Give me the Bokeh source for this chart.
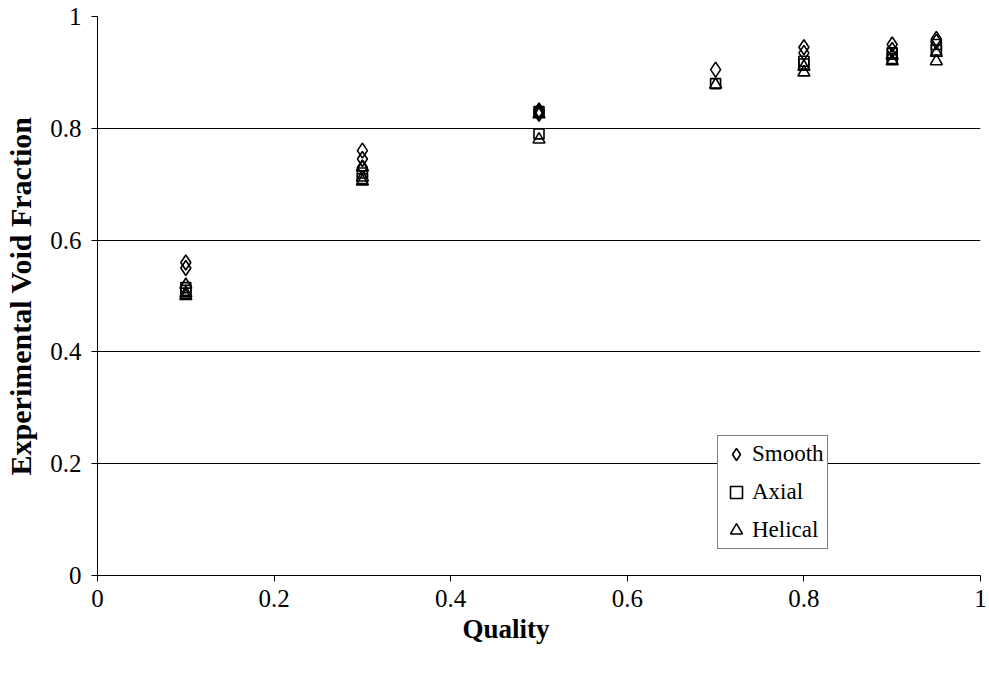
from bokeh.plotting import figure
from bokeh.models import FixedTicker, Legend, LegendItem, Range1d, Title
from bokeh.embed import file_html
from bokeh.resources import INLINE

# Data
smooth_x = [0.1, 0.1, 0.3, 0.3, 0.3, 0.5, 0.5, 0.5, 0.7, 0.8, 0.8, 0.9, 0.9, 0.95, 0.95]
smooth_y = [0.56, 0.55, 0.76, 0.745, 0.73, 0.832, 0.83, 0.826, 0.905, 0.945, 0.935, 0.95, 0.94, 0.96, 0.955]

axial_x = [0.1, 0.1, 0.1, 0.3, 0.3, 0.5, 0.5, 0.7, 0.8, 0.8, 0.9, 0.9, 0.95, 0.95]
axial_y = [0.515, 0.51, 0.505, 0.72, 0.71, 0.83, 0.79, 0.88, 0.92, 0.915, 0.935, 0.925, 0.95, 0.94]

helical_x = [0.1, 0.1, 0.1, 0.3, 0.3, 0.3, 0.5, 0.5, 0.7, 0.8, 0.8, 0.9, 0.9, 0.95, 0.95]
helical_y = [0.52, 0.505, 0.50, 0.73, 0.712, 0.705, 0.825, 0.78, 0.878, 0.91, 0.90, 0.93, 0.92, 0.935, 0.92]

series_names = ["Smooth", "Axial", "Helical"]

x_ticks = [0, 0.2, 0.4, 0.6, 0.8, 1]
x_tick_labels = ["0", "0.2", "0.4", "0.6", "0.8", "1"]
y_ticks = [0, 0.2, 0.4, 0.6, 0.8, 1]
y_tick_labels = ["0", "0.2", "0.4", "0.6", "0.8", "1"]
grid_levels = [0.2, 0.4, 0.6, 0.8]

FONT = "Liberation Serif"

p = figure(width=989, height=677, output_backend="svg", toolbar_location=None,
           x_range=Range1d(0, 1), y_range=Range1d(0, 1),
           min_border_left=97, min_border_right=9, min_border_top=16, min_border_bottom=102)
p.outline_line_color = None
p.background_fill_color = "white"
p.border_fill_color = "white"

p.xgrid.visible = False
p.ygrid.ticker = FixedTicker(ticks=grid_levels)
p.ygrid.grid_line_color = "black"
p.ygrid.grid_line_width = 1

for ax, ticks, labels in ((p.xaxis[0], x_ticks, x_tick_labels), (p.yaxis[0], y_ticks, y_tick_labels)):
    ax.ticker = FixedTicker(ticks=ticks)
    ax.major_label_overrides = {t: l for t, l in zip(ticks, labels)}
    ax.axis_line_color = "black"
    ax.axis_line_width = 1
    ax.major_tick_line_color = "black"
    ax.major_tick_out = 6
    ax.major_tick_in = 0
    ax.minor_tick_line_color = None
    ax.major_label_text_font = FONT
    ax.major_label_text_font_size = "25px"
    ax.major_label_text_color = "black"
    ax.axis_label_text_font = FONT
    ax.axis_label_text_font_size = "30px"
    ax.axis_label_text_font_style = "bold"
    ax.axis_label_text_color = "black"

p.yaxis.axis_label = "Experimental Void Fraction"
p.xaxis.major_label_standoff = 8
p.yaxis.major_label_standoff = 10
p.yaxis.axis_label_standoff = 10

# x-axis title, placed slightly left of the frame centre as in the reference
xtitle = Title(text="Quality", align="left", offset=365, standoff=4,
               text_font=FONT, text_font_size="27px", text_font_style="bold",
               text_color="black")
p.add_layout(xtitle, "below")

r1 = p.scatter(smooth_x, smooth_y, marker="diamond", size=15, fill_alpha=0,
               line_color="black", line_width=1.6)
r2 = p.scatter(axial_x, axial_y, marker="square", size=10, fill_alpha=0,
               line_color="black", line_width=1.6)
r3 = p.scatter(helical_x, helical_y, marker="triangle", size=12, fill_alpha=0,
               line_color="black", line_width=1.6)

legend = Legend(items=[LegendItem(label=name, renderers=[r])
                       for name, r in zip(series_names, (r1, r2, r3))],
                location=(620, 26))
legend.border_line_color = "black"
legend.border_line_width = 1.5
legend.background_fill_color = "white"
legend.background_fill_alpha = 1
legend.label_text_font = FONT
legend.label_text_font_size = "23px"
legend.label_text_color = "black"
legend.glyph_width = 30
legend.glyph_height = 30
legend.label_standoff = 1
legend.spacing = 8
legend.padding = 3
legend.margin = 0
p.add_layout(legend, "center")

open("out.html", "w").write(file_html(p, INLINE))
